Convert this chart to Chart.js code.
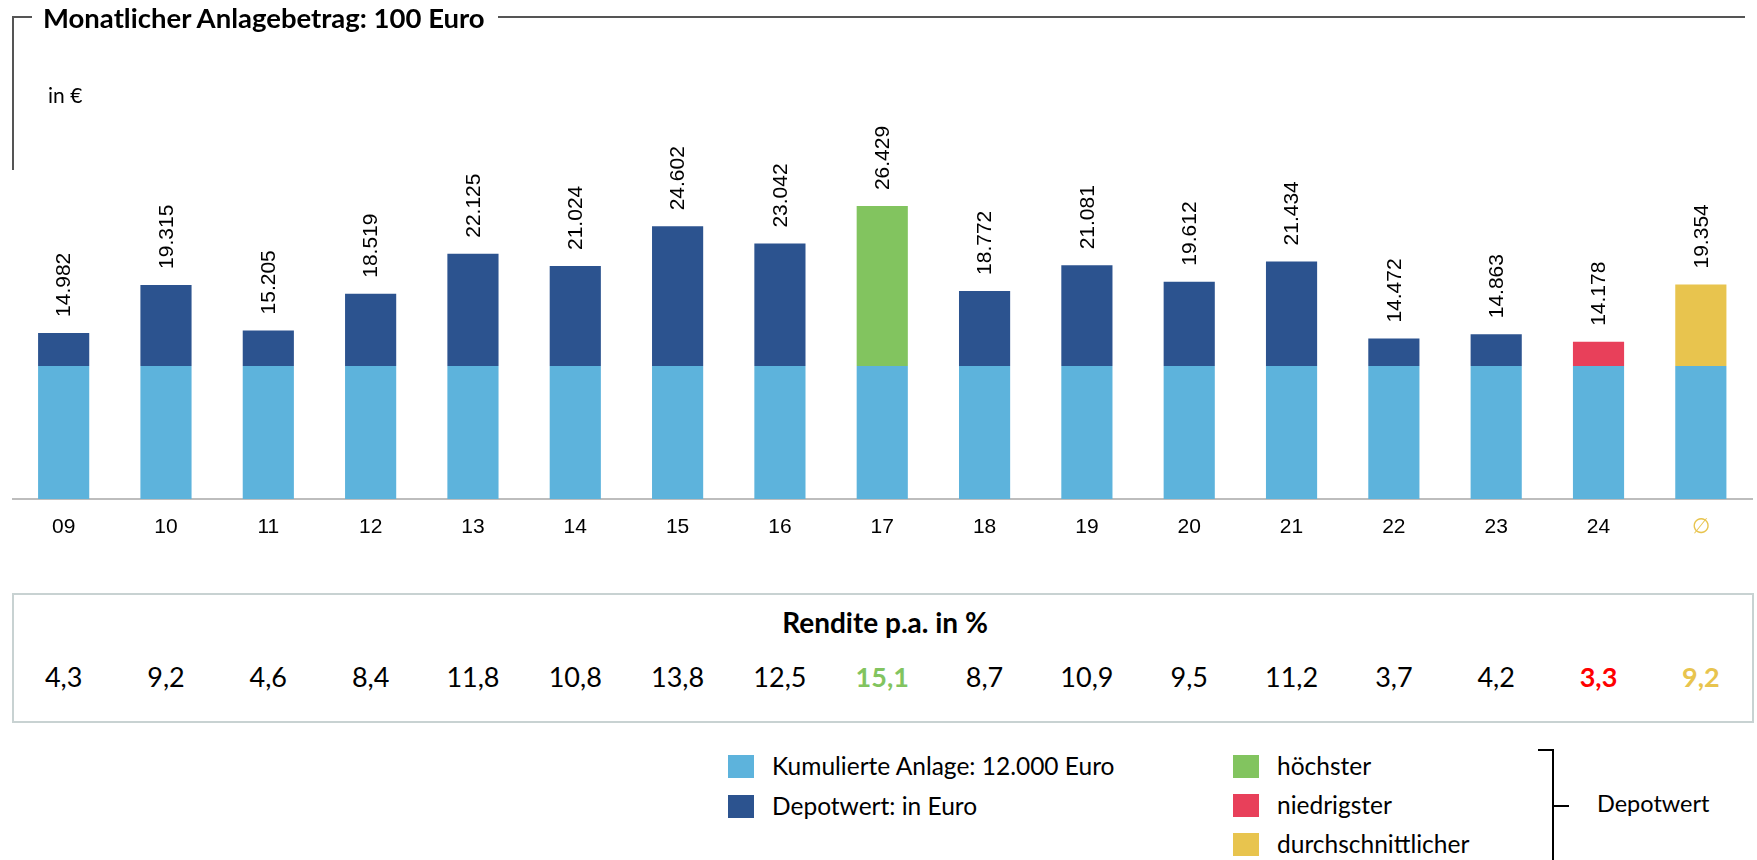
<!DOCTYPE html>
<html lang="de">
<head>
<meta charset="utf-8">
<script src="https://cdn.jsdelivr.net/npm/chart.js@4.4.1/dist/chart.umd.min.js"></script>
<style>
  html, body { margin: 0; padding: 0; background: #fff; }
  body { width: 1757px; height: 860px; position: relative; overflow: hidden; font-family: Lato, "Open Sans", sans-serif; color: #000; }
  .abs { position: absolute; white-space: nowrap; line-height: 1; }
  .line { position: absolute; background: #555; }
  #chartBox { position: absolute; left: 0; top: 0; width: 1757px; height: 546px; }
  #rbox { position: absolute; left: 12px; top: 593px; width: 1738px; height: 126px; border: 2px solid #C8D2D2; }
  .sq { position: absolute; width: 26px; height: 23px; }
</style>
</head>
<body>
<div id="chartBox"><canvas id="c"></canvas></div>

<!-- title frame -->
<div class="line" style="left:12px;top:16px;width:20px;height:1.5px;"></div>
<div class="line" style="left:12px;top:16px;width:1.5px;height:154px;"></div>
<div class="line" style="left:498px;top:16px;width:1247px;height:1.5px;"></div>
<div class="abs" id="title" style="left:43px;top:4px;font-size:27.5px;font-weight:700;">Monatlicher Anlagebetrag: 100 Euro</div>
<div class="abs" style="left:48px;top:84px;font-size:21px;">in €</div>

<!-- Rendite table -->
<div id="rbox"></div>
<div class="abs" style="left:885px;top:608px;font-size:28px;font-weight:700;transform:translateX(-50%);">Rendite p.a. in %</div>
<div id="rvals"></div>

<!-- legend -->
<div id="legend"></div>

<!-- bracket -->
<div style="position:absolute;left:1538px;top:749px;width:16px;height:2px;background:#000;"></div>
<div style="position:absolute;left:1552px;top:749px;width:2px;height:111px;background:#000;"></div>
<div style="position:absolute;left:1552px;top:805px;width:17px;height:2px;background:#000;"></div>
<div class="abs" style="left:1597px;top:792px;font-size:23.5px;">Depotwert</div>

<script>
// ---------- data ----------
const categories = ['09','10','11','12','13','14','15','16','17','18','19','20','21','22','23','24','\u2205'];
const kumulierteAnlage = [12000,12000,12000,12000,12000,12000,12000,12000,12000,12000,12000,12000,12000,12000,12000,12000,12000];
const depotwert = [14982,19315,15205,18519,22125,21024,24602,23042,26429,18772,21081,19612,21434,14472,14863,14178,19354];
const rendite = [4.3,9.2,4.6,8.4,11.8,10.8,13.8,12.5,15.1,8.7,10.9,9.5,11.2,3.7,4.2,3.3,9.2];
const legendLeft = ['Kumulierte Anlage: 12.000 Euro','Depotwert: in Euro'];
const legendRight = ['höchster','niedrigster','durchschnittlicher'];

// ---------- styles ----------
const C_LIGHT = '#5DB3DC', C_DARK = '#2C538F', C_GREEN = '#82C45F', C_RED = '#E8405A', C_YELLOW = '#E8C44E';
const avgIdx = categories.length - 1;
const years = depotwert.slice(0, avgIdx);
const maxIdx = years.indexOf(Math.max(...years));
const minIdx = years.indexOf(Math.min(...years));
const topColors = depotwert.map((v, i) => i === avgIdx ? C_YELLOW : i === maxIdx ? C_GREEN : i === minIdx ? C_RED : C_DARK);

const fmtThousand = v => String(v).replace(/\B(?=(\d{3})+(?!\d))/g, '.');
const fmtDec = v => v.toFixed(1).replace('.', ',');

const valueLabels = {
  id: 'valueLabels',
  afterDatasetsDraw(chart) {
    const ctx = chart.ctx;
    const meta = chart.getDatasetMeta(1);
    ctx.save();
    ctx.font = '21px "Liberation Sans", Arial, sans-serif';
    ctx.fillStyle = '#000';
    ctx.textAlign = 'left';
    ctx.textBaseline = 'middle';
    meta.data.forEach((bar, i) => {
      ctx.save();
      ctx.translate(bar.x + 1, bar.y - 16);
      ctx.rotate(-Math.PI / 2);
      ctx.fillText(fmtThousand(depotwert[i]), 0, 0);
      ctx.restore();
    });
    ctx.restore();
  }
};

const chart = new Chart(document.getElementById('c'), {
  type: 'bar',
  data: {
    labels: categories,
    datasets: [
      { label: legendLeft[0], data: kumulierteAnlage, backgroundColor: C_LIGHT, stack: 's' },
      { label: legendLeft[1], data: depotwert.map((v, i) => v - kumulierteAnlage[i]), backgroundColor: topColors, stack: 's' }
    ]
  },
  options: {
    responsive: true,
    maintainAspectRatio: false,
    animation: false,
    layout: { padding: { left: 12.5, right: 5, top: 499 - 33000 * 133 / 12000, bottom: 0 } },
    plugins: { legend: { display: false }, tooltip: { enabled: false } },
    datasets: { bar: { categoryPercentage: 1, barPercentage: 0.5, borderWidth: 0 } },
    scales: {
      x: {
        stacked: true,
        offset: true,
        grid: { display: false, drawTicks: false },
        border: { display: true, color: '#BDBDBD', width: 2 },
        ticks: {
          padding: 16,
          font: { family: '"Liberation Sans", Arial, sans-serif', size: 21 },
          color: ctx => ctx.index === avgIdx ? C_YELLOW : '#000'
        },
        afterFit: s => { s.height = 47; }
      },
      y: { stacked: true, display: false, min: 0, max: 33000 }
    }
  },
  plugins: [valueLabels]
});

// Rendite values under each bar
const rv = document.getElementById('rvals');
rendite.forEach((v, i) => {
  const d = document.createElement('div');
  d.className = 'abs';
  d.textContent = fmtDec(v);
  d.style.left = chart.scales.x.getPixelForValue(i) + 'px';
  d.style.top = '663px';
  d.style.fontSize = '27px';
  d.style.transform = 'translateX(-50%)';
  if (i === maxIdx) { d.style.color = C_GREEN; d.style.fontWeight = '700'; }
  if (i === minIdx) { d.style.color = '#FF0000'; d.style.fontWeight = '700'; }
  if (i === avgIdx) { d.style.color = C_YELLOW; d.style.fontWeight = '700'; }
  rv.appendChild(d);
});

// Legend
const lg = document.getElementById('legend');
function addItem(x, y, color, text) {
  const s = document.createElement('div');
  s.className = 'sq'; s.style.left = x + 'px'; s.style.top = y + 'px'; s.style.background = color;
  lg.appendChild(s);
  const t = document.createElement('div');
  t.className = 'abs'; t.textContent = text; t.style.left = (x + 44) + 'px'; t.style.top = (y - 1.5) + 'px'; t.style.fontSize = '24.5px';
  lg.appendChild(t);
}
addItem(728, 755, C_LIGHT, legendLeft[0]);
addItem(728, 795, C_DARK, legendLeft[1]);
addItem(1233, 755, C_GREEN, legendRight[0]);
addItem(1233, 794, C_RED, legendRight[1]);
addItem(1233, 833, C_YELLOW, legendRight[2]);
</script>
</body>
</html>
